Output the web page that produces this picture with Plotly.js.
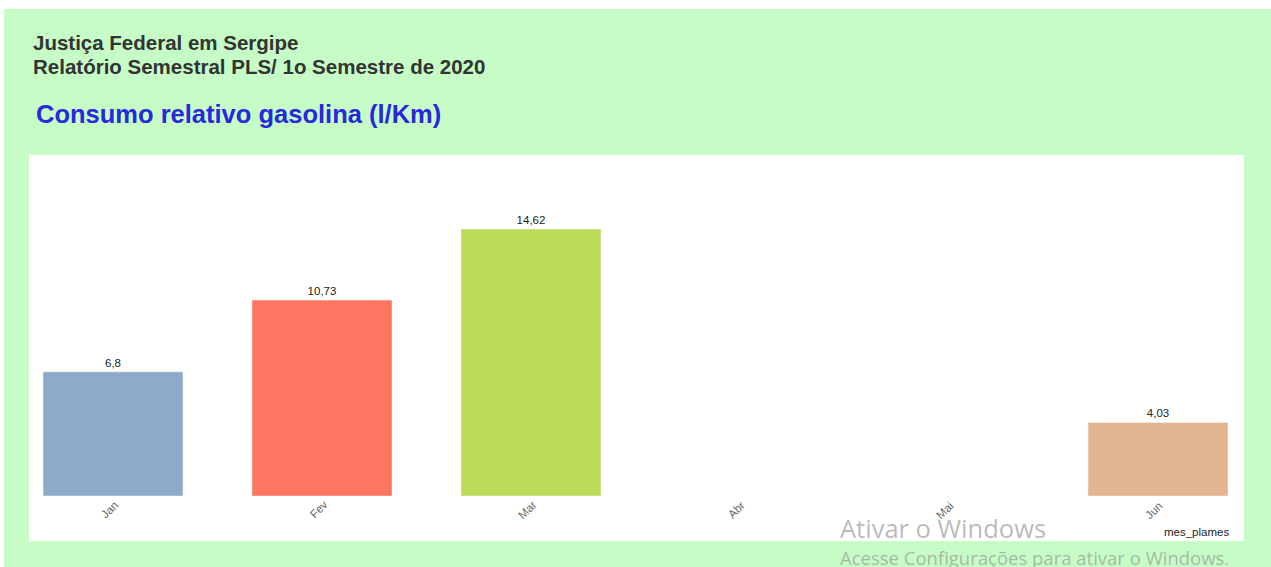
<!DOCTYPE html>
<html>
<head>
<meta charset="utf-8">
<script src="https://cdn.plot.ly/plotly-3.0.1.min.js"></script>
<style>
html,body{margin:0;padding:0;background:#ffffff;overflow:hidden;}
#chart{position:absolute;left:4px;top:9px;width:1267px;height:558px;}
</style>
</head>
<body>
<div id="chart"></div>
<script>
// ---- data ----
const months = ['Jan', 'Fev', 'Mar', 'Abr', 'Mai', 'Jun'];
const consumo = [6.8, 10.73, 14.62, null, null, 4.03];
const barColors = ['#8eaacb', '#fe7562', '#bcd957', '#c9a0dc', '#7fc6b4', '#e3b491'];
const headerLines = ['Justiça Federal em Sergipe', 'Relatório Semestral PLS/ 1o Semestre de 2020'];
const chartTitle = 'Consumo relativo gasolina (l/Km)';
const axisTitle = 'mes_plames';

const labels = consumo.map(v => v == null ? '' : String(v).replace('.', ','));
const FONT = 'Liberation Sans, Arial, sans-serif';

const trace = {
  type: 'bar',
  x: months,
  y: consumo,
  width: 0.67,
  marker: {color: barColors, line: {color: 'rgba(255,255,255,0.45)', width: 1}},
  text: labels,
  textposition: 'outside',
  cliponaxis: false,
  textfont: {family: FONT, size: 11.5, color: '#222222'},
  hoverinfo: 'x+y'
};

const annotations = [];
annotations.push({xref: 'paper', yref: 'paper', x: -0.0101, y: 1.5133, xanchor: 'left', yanchor: 'middle',
  text: '<b>' + headerLines[0] + '</b>', showarrow: false,
  font: {family: FONT, size: 20.5, color: '#333333'}});
annotations.push({xref: 'paper', yref: 'paper', x: -0.0101, y: 1.4333, xanchor: 'left', yanchor: 'middle',
  text: '<b>' + headerLines[1] + '</b>', showarrow: false,
  font: {family: FONT, size: 20.5, color: '#333333'}});
annotations.push({xref: 'paper', yref: 'paper', x: -0.0076, y: 1.2733, xanchor: 'left', yanchor: 'middle',
  text: '<b>' + chartTitle + '</b>', showarrow: false,
  font: {family: FONT, size: 25.5, color: '#2828dc'}});
months.forEach(m => {
  annotations.push({xref: 'x', yref: 'paper', x: m, y: -0.045, xanchor: 'center', yanchor: 'middle',
    xshift: -4, textangle: -45, text: m, showarrow: false,
    font: {family: FONT, size: 11.5, color: '#666666'}});
});
annotations.push({xref: 'paper', yref: 'paper', x: 1.00253, y: -0.12, xanchor: 'right', yanchor: 'middle',
  text: axisTitle, showarrow: false,
  font: {family: FONT, size: 11.5, color: '#222222'}});
// Windows activation watermark visible in the reference
annotations.push({xref: 'paper', yref: 'paper', x: 0.6709, y: -0.108, xanchor: 'left', yanchor: 'middle',
  text: 'Ativar o Windows', showarrow: false,
  font: {family: 'Open Sans, Noto Sans, sans-serif', size: 25.5, color: 'rgba(140,140,140,0.6)'}});
annotations.push({xref: 'paper', yref: 'paper', x: 0.6709, y: -0.205, xanchor: 'left', yanchor: 'middle',
  text: 'Acesse Configurações para ativar o Windows.', showarrow: false,
  font: {family: 'Open Sans, Noto Sans, sans-serif', size: 18.5, color: 'rgba(140,140,140,0.6)'}});

const layout = {
  width: 1267, height: 558,
  margin: {l: 39, r: 43, t: 187, b: 71, pad: 0},
  paper_bgcolor: '#c6fcc6',
  plot_bgcolor: 'rgba(0,0,0,0)',
  showlegend: false,
  bargap: 0.33,
  xaxis: {type: 'category', range: [-0.335, 5.335], showticklabels: false, showgrid: false,
          zeroline: false, showline: false, ticks: '', fixedrange: true},
  yaxis: {range: [0, 16.43], visible: false, showgrid: false, zeroline: false, fixedrange: true},
  shapes: [{type: 'rect', xref: 'paper', yref: 'paper', x0: -0.01181, x1: 1.0135, y0: -0.15, y1: 1.1367,
            fillcolor: '#ffffff', line: {width: 0}, layer: 'below'}],
  annotations: annotations
};

Plotly.newPlot('chart', [trace], layout, {displayModeBar: false, staticPlot: true});
</script>
</body>
</html>
